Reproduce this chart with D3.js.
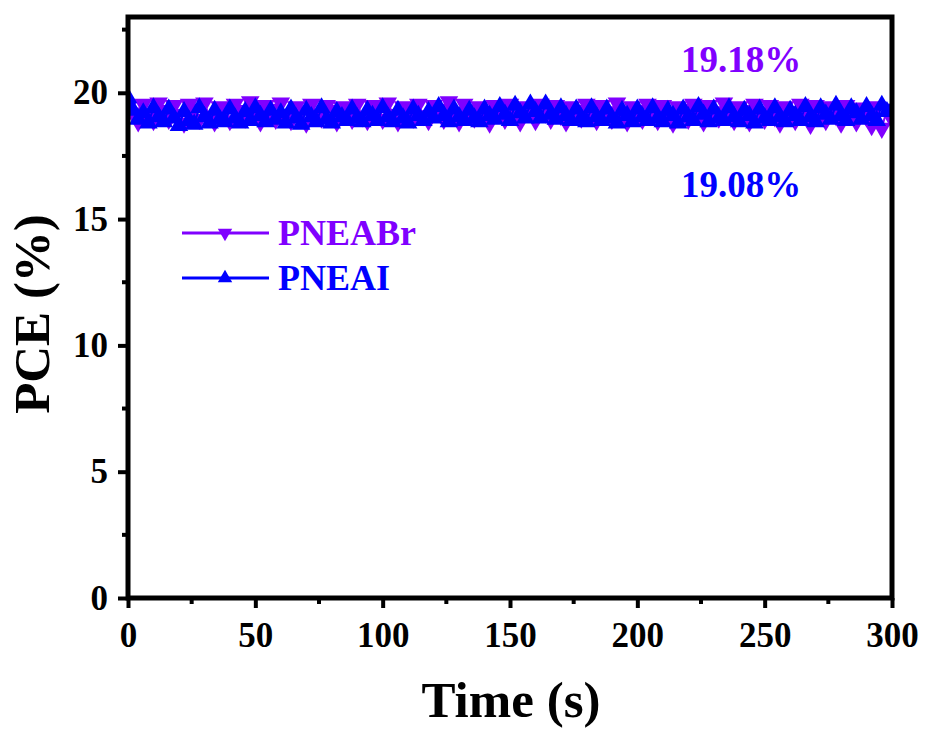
<!DOCTYPE html>
<html>
<head>
<meta charset="utf-8">
<script src="https://cdn.jsdelivr.net/npm/d3@7"></script>
<style>
  html, body { margin: 0; padding: 0; background: #fff; }
  svg text { font-family: "Liberation Serif", "Times New Roman", serif; font-weight: bold; }
</style>
</head>
<body>
<svg id="chart" width="928" height="729"></svg>
<script>
// Time axis (s), sampled every 2 s
const times = d3.range(0, 301, 2);

// PCE (%) of the PNEABr device under continuous operation
const pceBr = [
  19.45, 19.20, 18.85, 19.55, 19.10, 18.90, 19.60, 19.30, 18.95, 19.50,
  19.15, 18.80, 19.55, 19.35, 18.95, 19.60, 19.05, 18.85, 19.45, 19.25,
  18.90, 19.55, 19.30, 19.00, 19.65, 19.20, 18.85, 19.50, 19.35, 18.95,
  19.60, 19.10, 18.90, 19.45, 19.25, 18.80, 19.55, 19.15, 19.00, 19.50,
  19.30, 18.85, 19.45, 19.20, 18.95, 19.55, 19.05, 18.90, 19.50, 19.30,
  18.95, 19.60, 19.15, 18.85, 19.45, 19.25, 19.00, 19.55, 19.10, 18.90,
  19.50, 19.35, 18.95, 19.65, 19.20, 18.85, 19.55, 19.30, 19.00, 19.45,
  19.15, 18.80, 19.50, 19.25, 18.95, 19.55, 19.10, 18.85, 19.45, 19.30,
  18.90, 19.55, 19.20, 18.95, 19.50, 19.10, 18.85, 19.45, 19.30, 19.00,
  19.55, 19.15, 18.90, 19.50, 19.25, 18.95, 19.60, 19.05, 18.85, 19.45,
  19.30, 18.95, 19.55, 19.20, 18.90, 19.50, 19.10, 18.80, 19.45, 19.35,
  18.95, 19.55, 19.15, 18.85, 19.50, 19.25, 19.00, 19.60, 19.10, 18.90,
  19.45, 19.30, 18.85, 19.55, 19.20, 18.95, 19.50, 19.05, 18.80, 19.45,
  19.25, 18.90, 19.55, 19.15, 18.75, 19.50, 19.30, 18.90, 19.45, 19.10,
  18.80, 19.50, 19.20, 18.85, 19.40, 19.05, 18.70, 19.45, 18.60, 19.35,
  18.95
];

// PCE (%) of the PNEAI device under continuous operation
const pceI = [
  19.80, 19.30, 18.95, 19.20, 18.80, 19.40, 19.05, 18.85, 19.35, 19.00,
  18.70, 19.25, 18.90, 18.75, 19.40, 19.05, 18.80, 19.30, 18.95, 18.85,
  19.35, 19.00, 18.80, 19.25, 18.90, 19.40, 19.10, 18.85, 19.30, 18.95,
  19.20, 18.80, 19.35, 19.00, 18.75, 19.30, 19.05, 18.85, 19.40, 18.95,
  18.80, 19.25, 19.05, 18.90, 19.35, 19.00, 18.85, 19.30, 19.10, 18.90,
  19.40, 19.05, 18.85, 19.30, 19.00, 18.80, 19.35, 19.10, 18.90, 19.25,
  19.00, 19.45, 19.10, 18.85, 19.35, 19.05, 18.90, 19.30, 19.00, 18.85,
  19.35, 19.10, 18.95, 19.45, 19.15, 18.90, 19.50, 19.20, 19.00, 19.55,
  19.25, 19.00, 19.55, 19.15, 18.95, 19.40, 19.10, 18.90, 19.35, 19.00,
  18.85, 19.40, 19.05, 18.90, 19.35, 19.00, 18.80, 19.30, 19.10, 18.85,
  19.35, 19.05, 18.90, 19.40, 19.00, 18.85, 19.30, 19.10, 18.80, 19.35,
  19.05, 18.90, 19.45, 19.15, 18.85, 19.35, 19.00, 18.90, 19.40, 19.05,
  18.85, 19.30, 19.10, 18.80, 19.35, 19.00, 18.90, 19.40, 19.05, 18.85,
  19.30, 19.10, 18.90, 19.45, 19.05, 18.85, 19.40, 19.15, 18.95, 19.50,
  19.10, 18.90, 19.40, 19.20, 18.95, 19.45, 19.10, 18.90, 19.50, 19.25,
  19.30
];

const seriesNames = ["PNEABr", "PNEAI"];
const averageLabels = ["19.18%", "19.08%"];
const xTicks = [0, 50, 100, 150, 200, 250, 300];
const yTicks = [0, 5, 10, 15, 20];

const colors = { PNEABr: "#8000ff", PNEAI: "#0000ff" };

const svg = d3.select("#chart");
const plotLeft = 128, plotRight = 892, plotTop = 17, plotBottom = 598;

const x = d3.scaleLinear().domain([0, 300]).range([plotLeft, plotRight]);
const y = d3.scaleLinear().domain([0, 23]).range([plotBottom, plotTop]);

const series = [
  { name: seriesNames[0], values: pceBr, symbol: "down" },
  { name: seriesNames[1], values: pceI, symbol: "up" }
];

const triUp = d3.symbol().type(d3.symbolTriangle).size(150)();
const legendTri = d3.symbol().type(d3.symbolTriangle).size(90)();

svg.append("clipPath").attr("id", "clip")
  .append("rect").attr("x", plotLeft).attr("y", plotTop)
  .attr("width", plotRight - plotLeft).attr("height", plotBottom - plotTop);

const marks = svg.append("g").attr("clip-path", "url(#clip)");
const line = d3.line().x(d => x(d[0])).y(d => y(d[1]));

series.forEach(s => {
  const pts = times.map((t, i) => [t, s.values[i]]);
  const g = marks.append("g");
  g.append("path")
    .datum(pts)
    .attr("d", line)
    .attr("fill", "none")
    .attr("stroke", colors[s.name])
    .attr("stroke-width", 2);
  g.selectAll("path.m")
    .data(pts)
    .join("path")
    .attr("class", "m")
    .attr("d", triUp)
    .attr("fill", colors[s.name])
    .attr("transform", d => `translate(${x(d[0])},${y(d[1])})` + (s.symbol === "down" ? " rotate(180)" : ""));
});

// Axes: outward major ticks plus minor ticks
const xAxis = d3.axisBottom(x).tickValues(xTicks).tickSize(10).tickPadding(14).tickFormat(d3.format("d"));
const yAxis = d3.axisLeft(y).tickValues(yTicks).tickSize(10).tickPadding(10).tickFormat(d3.format("d"));

const gx = svg.append("g").attr("transform", `translate(0,${plotBottom})`).call(xAxis);
const gy = svg.append("g").attr("transform", `translate(${plotLeft},0)`).call(yAxis);

[gx, gy].forEach(g => {
  g.select(".domain").remove();
  g.selectAll(".tick line").attr("stroke", "#000").attr("stroke-width", 4);
  g.selectAll(".tick text")
    .attr("fill", "#000")
    .style("font-size", "35px")
    .style("font-family", "'Liberation Serif', serif")
    .style("font-weight", "bold");
});

const xMinor = d3.range(25, 300, 50);
const yMinor = [2.5, 7.5, 12.5, 17.5, 22.5];
svg.append("g").selectAll("line").data(xMinor).join("line")
  .attr("x1", d => x(d)).attr("x2", d => x(d))
  .attr("y1", plotBottom).attr("y2", plotBottom + 6)
  .attr("stroke", "#000").attr("stroke-width", 4);
svg.append("g").selectAll("line").data(yMinor).join("line")
  .attr("y1", d => y(d)).attr("y2", d => y(d))
  .attr("x1", plotLeft).attr("x2", plotLeft - 6)
  .attr("stroke", "#000").attr("stroke-width", 4);

// Frame
svg.append("rect")
  .attr("x", plotLeft).attr("y", plotTop)
  .attr("width", plotRight - plotLeft).attr("height", plotBottom - plotTop)
  .attr("fill", "none").attr("stroke", "#000").attr("stroke-width", 5);

// Axis titles
svg.append("text")
  .attr("x", (plotLeft + plotRight) / 2 + 1).attr("y", 717)
  .attr("text-anchor", "middle")
  .style("font-size", "51px")
  .text("Time (s)");
svg.append("text")
  .attr("transform", "translate(49,314) rotate(-90)")
  .attr("text-anchor", "middle")
  .style("font-size", "51px")
  .text("PCE (%)");

// Average PCE annotations
svg.append("text").attr("x", 741).attr("y", 72).attr("text-anchor", "middle")
  .attr("fill", colors.PNEABr).style("font-size", "37px").text(averageLabels[0]);
svg.append("text").attr("x", 741).attr("y", 197).attr("text-anchor", "middle")
  .attr("fill", colors.PNEAI).style("font-size", "37px").text(averageLabels[1]);

// Legend
const legend = svg.append("g");
series.forEach((s, i) => {
  const ly = 233 + i * 45;
  legend.append("line")
    .attr("x1", 182).attr("x2", 269).attr("y1", ly).attr("y2", ly)
    .attr("stroke", colors[s.name]).attr("stroke-width", 3);
  legend.append("path")
    .attr("d", legendTri)
    .attr("fill", colors[s.name])
    .attr("transform", `translate(225,${ly})` + (s.symbol === "down" ? " rotate(180)" : ""));
  legend.append("text")
    .attr("x", 278).attr("y", ly + 12)
    .attr("fill", colors[s.name])
    .style("font-size", "36px")
    .text(s.name);
});
</script>
</body>
</html>
